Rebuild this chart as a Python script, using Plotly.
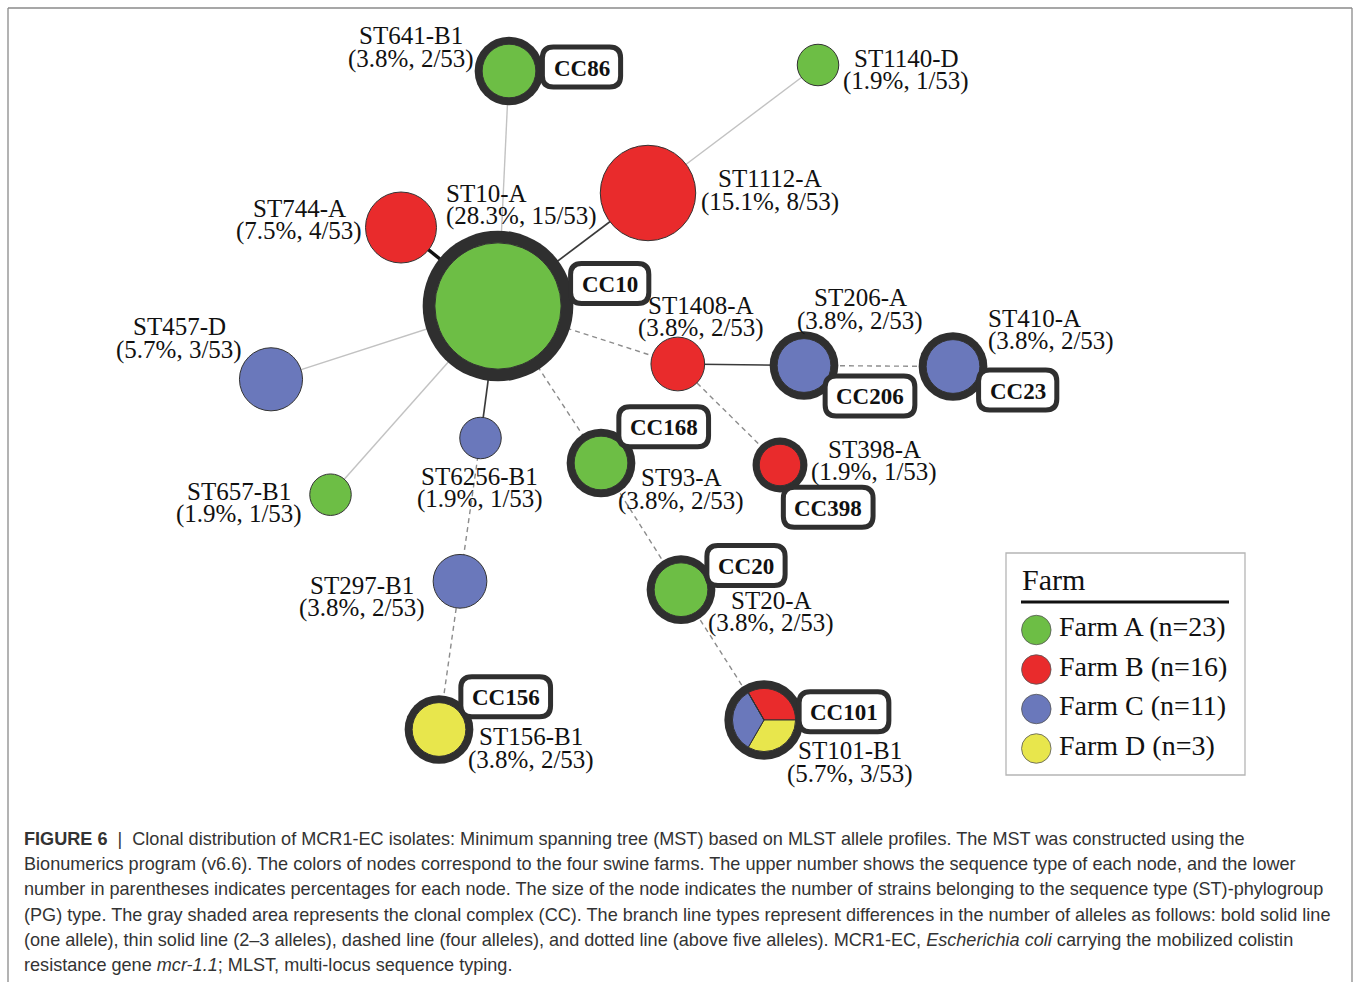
import numpy as np
import plotly.graph_objects as go

# ---------------- data ----------------
st_names = ["ST10-A", "ST1112-A", "ST744-A", "ST641-B1", "ST1140-D", "ST457-D",
            "ST657-B1", "ST6256-B1", "ST1408-A", "ST206-A", "ST410-A", "ST398-A",
            "ST93-A", "ST20-A", "ST101-B1", "ST297-B1", "ST156-B1"]
st_pct = [28.3, 15.1, 7.5, 3.8, 1.9, 5.7, 1.9, 1.9, 3.8, 3.8, 3.8, 1.9, 3.8, 3.8, 5.7, 3.8, 3.8]
st_isolates = [15, 8, 4, 2, 1, 3, 1, 1, 2, 2, 2, 1, 2, 2, 3, 2, 2]
total_isolates = 53
# isolates of each ST per farm
farm_A = [15, 0, 0, 2, 1, 0, 1, 0, 0, 0, 0, 0, 2, 2, 0, 0, 0]
farm_B = [0, 8, 4, 0, 0, 0, 0, 0, 2, 0, 0, 1, 0, 0, 1, 0, 0]
farm_C = [0, 0, 0, 0, 0, 3, 0, 1, 0, 2, 2, 0, 0, 0, 1, 2, 0]
farm_D = [0, 0, 0, 0, 0, 0, 0, 0, 0, 0, 0, 0, 0, 0, 1, 0, 2]
st_cc = ["CC10", "", "", "CC86", "", "", "", "", "", "CC206", "CC23", "CC398",
         "CC168", "CC20", "CC101", "", "CC156"]
farm_names = ["Farm A", "Farm B", "Farm C", "Farm D"]
farm_n = [23, 16, 11, 3]
# MST branches: (from, to, allele-difference class)
edge_from = ["ST10-A", "ST10-A", "ST1112-A", "ST10-A", "ST10-A", "ST10-A", "ST10-A",
             "ST10-A", "ST10-A", "ST1408-A", "ST206-A", "ST1408-A", "ST93-A", "ST20-A",
             "ST6256-B1", "ST297-B1"]
edge_to = ["ST641-B1", "ST1112-A", "ST1140-D", "ST744-A", "ST457-D", "ST657-B1", "ST6256-B1",
           "ST1408-A", "ST93-A", "ST206-A", "ST410-A", "ST398-A", "ST20-A", "ST101-B1",
           "ST297-B1", "ST156-B1"]
edge_class = [3, 2, 3, 1, 3, 3, 2, 4, 4, 2, 4, 4, 4, 4, 4, 4]

# ---------------- layout of the tree (pixel space) ----------------
node_x = [498, 648, 401, 509, 818, 271, 330.5, 480.5, 677.8, 804, 953, 780, 601, 681, 764, 460, 439]
node_y = [306, 193, 227.5, 71, 65, 379.3, 494.7, 438, 364, 365.5, 366.5, 465, 463, 589.7, 720, 581.3, 729.5]
label_x = [444, 770, 299, 411, 906, 179, 238.5, 479.5, 701, 860, 986, 874, 681, 771, 850, 362, 531]
label_y = [193, 178.5, 208, 35.5, 58, 326.5, 491, 476, 305, 297.5, 318, 449, 477.5, 600, 750.5, 585, 736.5]
label_anchor = ["left", "center", "center", "center", "center", "center", "center", "center",
                "center", "center", "left", "center", "center", "center", "center", "center", "center"]
cc_x = {"CC10": 609.7, "CC86": 581.5, "CC206": 870, "CC23": 1017.7, "CC398": 828.2,
        "CC168": 663.7, "CC20": 746, "CC101": 844, "CC156": 505.7}
cc_y = {"CC10": 283.4, "CC86": 67, "CC206": 395.9, "CC23": 390, "CC398": 507.3,
        "CC168": 426.7, "CC20": 565.5, "CC101": 711.7, "CC156": 696.7}

W, H = 1354, 982
farm_colors = ["#6DBE45", "#E92B2C", "#6A78BB", "#E8E64C"]
ring_color = "#2F2F2F"
serif = "Liberation Serif, Times New Roman, serif"
sans = "Liberation Sans, Arial, Helvetica, sans-serif"

def radius(n):
    return 6 + 14.75 * np.sqrt(n)

idx = {n: i for i, n in enumerate(st_names)}
farm_table = np.array([farm_A, farm_B, farm_C, farm_D])

fig = go.Figure()

# branches
edge_style = {1: dict(color="#111111", width=3.4),
              2: dict(color="#3a3a3a", width=1.7),
              3: dict(color="#c2c2c2", width=1.4),
              4: dict(color="#8c8c8c", width=1.4, dash="5px,4px")}
for a, b, c in zip(edge_from, edge_to, edge_class):
    i, j = idx[a], idx[b]
    fig.add_trace(go.Scatter(x=[node_x[i], node_x[j]], y=[node_y[i], node_y[j]],
                             mode="lines", line=edge_style[c], hoverinfo="skip",
                             showlegend=False))

# clonal complex shading rings
r_all = np.array([radius(n) for n in st_isolates])
cc_idx = [i for i, c in enumerate(st_cc) if c]
fig.add_trace(go.Scatter(
    x=[node_x[i] for i in cc_idx], y=[node_y[i] for i in cc_idx], mode="markers",
    marker=dict(size=[2 * (r_all[i] + 4 + 0.13 * r_all[i]) for i in cc_idx],
                color=ring_color, opacity=1, line=dict(width=0)),
    hoverinfo="skip", showlegend=False))

# single-farm nodes
single = [i for i in range(len(st_names)) if np.count_nonzero(farm_table[:, i]) == 1]
fig.add_trace(go.Scatter(
    x=[node_x[i] for i in single], y=[node_y[i] for i in single], mode="markers",
    marker=dict(size=[2 * r_all[i] for i in single], opacity=1,
                color=[farm_colors[int(np.argmax(farm_table[:, i]))] for i in single],
                line=dict(color="#333333", width=1)),
    text=[st_names[i] for i in single], hoverinfo="text", showlegend=False))

# multi-farm nodes as pies
for i in range(len(st_names)):
    if np.count_nonzero(farm_table[:, i]) > 1:
        order = [1, 3, 2, 0]
        vals = [int(farm_table[k, i]) for k in order]
        cols = [farm_colors[k] for k in order]
        r = r_all[i]
        fig.add_trace(go.Pie(
            values=vals, marker=dict(colors=cols, line=dict(color="#333333", width=1)),
            sort=False, direction="clockwise", rotation=-30, textinfo="none",
            hoverinfo="skip", showlegend=False,
            domain=dict(x=[(node_x[i] - r) / W, (node_x[i] + r) / W],
                        y=[1 - (node_y[i] + r) / H, 1 - (node_y[i] - r) / H])))

annotations = []
shapes = []

# node labels
line_gap = 23
for i, name in enumerate(st_names):
    l2 = f"({st_pct[i]}%, {st_isolates[i]}/{total_isolates})"
    for k, t in enumerate([name, l2]):
        annotations.append(dict(x=label_x[i], y=label_y[i] + k * line_gap, xref="x", yref="y",
                                text=t, showarrow=False, xanchor=label_anchor[i],
                                yanchor="middle", font=dict(family=serif, size=25, color="#111")))

# clonal complex tags
char_w = {"C": 0.722}
for cc in cc_x:
    tw = sum(char_w.get(ch, 0.5) for ch in cc) * 23
    bw, bh, rr = tw + 22, 40, 11
    x0, x1 = cc_x[cc] - bw / 2, cc_x[cc] + bw / 2
    y0, y1 = cc_y[cc] - bh / 2, cc_y[cc] + bh / 2
    path = (f"M{x0+rr},{y0} L{x1-rr},{y0} Q{x1},{y0} {x1},{y0+rr} L{x1},{y1-rr} "
            f"Q{x1},{y1} {x1-rr},{y1} L{x0+rr},{y1} Q{x0},{y1} {x0},{y1-rr} "
            f"L{x0},{y0+rr} Q{x0},{y0} {x0+rr},{y0} Z")
    shapes.append(dict(type="path", path=path, xref="x", yref="y", fillcolor="white",
                       line=dict(color=ring_color, width=5), layer="above"))
    annotations.append(dict(x=cc_x[cc], y=cc_y[cc] + 1, xref="x", yref="y", text=f"<b>{cc}</b>",
                            showarrow=False, xanchor="center", yanchor="middle",
                            font=dict(family=serif, size=23, color="#111")))

# legend (drawn by hand)
LX0, LY0, LX1, LY1 = 1006, 553, 1245, 775
shapes.append(dict(type="rect", x0=LX0, y0=LY0, x1=LX1, y1=LY1, xref="x", yref="y",
                   line=dict(color="#b5b5b5", width=1.3), fillcolor="rgba(0,0,0,0)", layer="below"))
annotations.append(dict(x=LX0 + 14, y=LY0 + 26, xref="x", yref="y", text="Farm", showarrow=False,
                        xanchor="left", yanchor="middle", font=dict(family=serif, size=30, color="#111")))
shapes.append(dict(type="line", x0=LX0 + 15, x1=LX1 - 16, y0=LY0 + 49, y1=LY0 + 49, xref="x", yref="y",
                   line=dict(color="#111", width=3)))
row_y = [LY0 + 77 + 39.5 * k for k in range(len(farm_names))]
fig.add_trace(go.Scatter(x=[LX0 + 30.3] * len(farm_names), y=row_y, mode="markers",
                         marker=dict(size=29.5, color=farm_colors, opacity=1,
                                     line=dict(color="#555", width=0.8)),
                         hoverinfo="skip", showlegend=False))
for k, (fn, n) in enumerate(zip(farm_names, farm_n)):
    annotations.append(dict(x=LX0 + 51, y=row_y[k] - 3.5, xref="x", yref="y", text=f"{fn} (n={n})",
                            showarrow=False, xanchor="left", yanchor="middle",
                            font=dict(family=serif, size=28, color="#111")))

# page frame
for (xa, ya, xb, yb) in [(8, 8, 1352, 8), (8, 8, 8, H), (1352, 8, 1352, H)]:
    shapes.append(dict(type="line", x0=xa, y0=ya, x1=xb, y1=yb, xref="x", yref="y",
                       line=dict(color="#8a8a8a", width=1.3)))

# caption
caption = [
    "<b>FIGURE 6</b>  |  Clonal distribution of MCR1-EC isolates: Minimum spanning tree (MST) based on MLST allele profiles. The MST was constructed using the",
    "Bionumerics program (v6.6). The colors of nodes correspond to the four swine farms. The upper number shows the sequence type of each node, and the lower",
    "number in parentheses indicates percentages for each node. The size of the node indicates the number of strains belonging to the sequence type (ST)-phylogroup",
    "(PG) type. The gray shaded area represents the clonal complex (CC). The branch line types represent differences in the number of alleles as follows: bold solid line",
    "(one allele), thin solid line (2–3 alleles), dashed line (four alleles), and dotted line (above five alleles). MCR1-EC, <i>Escherichia coli</i> carrying the mobilized colistin",
    "resistance gene <i>mcr-1.1</i>; MLST, multi-locus sequence typing.",
]
for k, t in enumerate(caption):
    annotations.append(dict(x=22, y=839 + 25.2 * k, xref="x", yref="y", text=t, showarrow=False,
                            xanchor="left", yanchor="middle",
                            font=dict(family=sans, size=18.1, color="#333333")))

fig.update_layout(
    width=W, height=H, margin=dict(l=0, r=0, t=0, b=0, pad=0),
    paper_bgcolor="white", plot_bgcolor="white",
    xaxis=dict(range=[0, W], visible=False, fixedrange=True),
    yaxis=dict(range=[H, 0], visible=False, fixedrange=True),
    shapes=shapes, annotations=annotations, showlegend=False,
)

fig.write_html("out.html", config={"displayModeBar": False},
               post_script="document.body.style.margin='0';document.body.style.overflow='hidden';")
